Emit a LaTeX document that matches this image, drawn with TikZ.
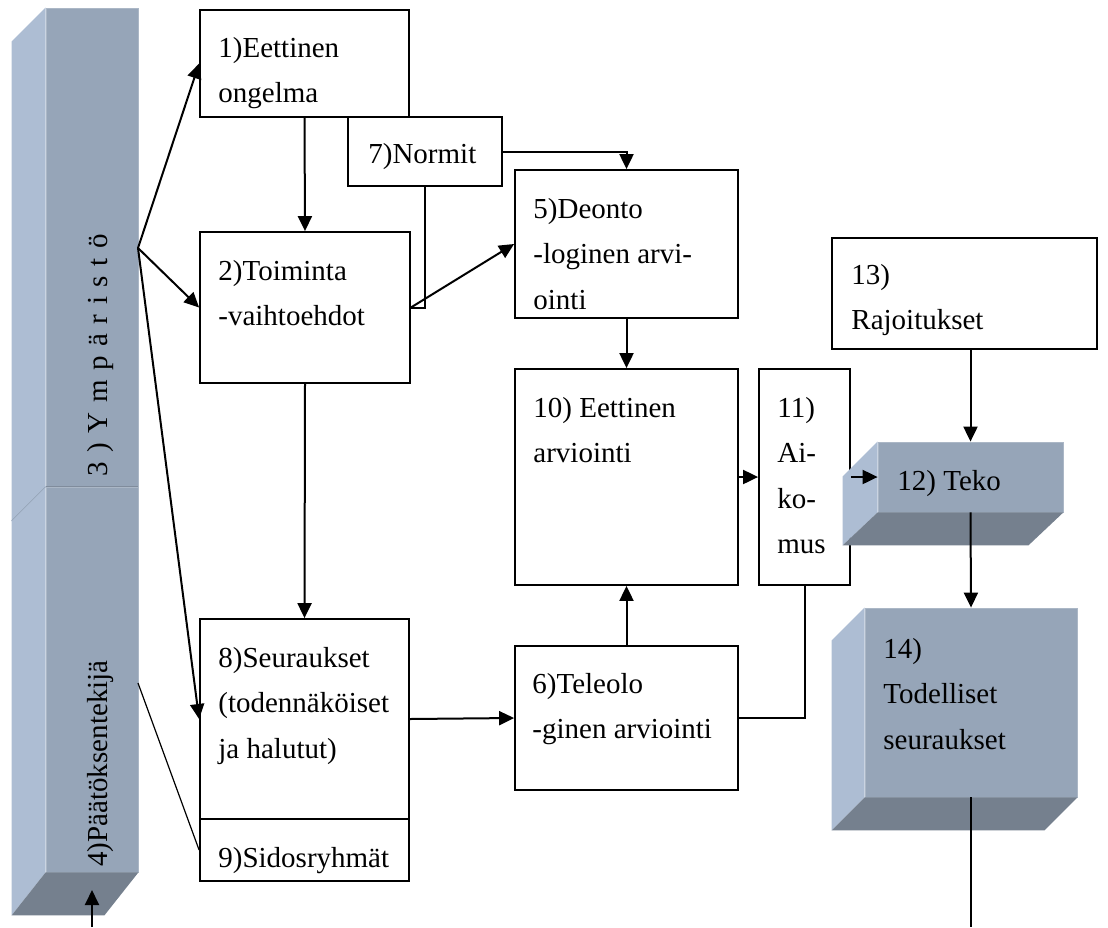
\documentclass[tikz,border=0pt]{standalone}
\usepackage{fontspec}
\setmainfont{Liberation Serif}
\usepackage{tikz}
\usetikzlibrary{arrows.meta,positioning,calc}
\newcommand{\dmfont}{\fontsize{14.5}{22.75}\selectfont}
\newcommand{\dmlines}[1]{\begin{tabular}[t]{@{}l@{}}#1\end{tabular}}
\definecolor{dmsidecol}{RGB}{173,189,211}
\definecolor{dmfrontcol}{RGB}{150,165,184}
\definecolor{dmbottomcol}{RGB}{117,128,142}
\tikzset{
  dmbox/.style={rectangle, draw=black, fill=white, line width=0.9pt, inner sep=0pt},
  dmtext/.style={anchor=base west, inner sep=0pt, font=\dmfont},
  dmfront/.style={rectangle, fill=dmfrontcol, draw=dmfrontcol!80!white, line width=0.4pt, inner sep=0pt},
  dmside/.style={fill=dmsidecol},
  dmbottom/.style={fill=dmbottomcol},
  dmedge/.style={-{Triangle[length=7.5pt,width=7pt]}, line width=1pt},
  dmline/.style={line width=1pt},
  dmthin/.style={line width=0.6pt}
}

\begin{document}
\begin{tikzpicture}[x=0.5pt,y=-0.5pt]
  \useasboundingbox (0,0) rectangle (1108,927);
  % environment and decision maker (left column)
  \node[dmfront, minimum width=46pt, minimum height=239.5pt] (ympf) at (92,247.5) {};
  \node[dmfront, minimum width=46pt, minimum height=192.5pt] (paatf) at (92,679.5) {};
  \fill[dmside] (ympf.north west) -- ++(-34,34) -- ($(ympf.south west)+(-34,34)$) -- (ympf.south west) -- cycle;
  \fill[dmside] (paatf.north west) -- ++(-34,34) -- ($(paatf.south west)+(-34,43)$) -- (paatf.south west) -- cycle;
  \fill[dmbottom] (paatf.south west) -- (paatf.south east) -- ++(-34,43) -- ($(paatf.south west)+(-34,43)$) -- cycle;
  \draw[dmsidecol!85!black, line width=0.3pt] (paatf.north west) -- ++(-34,34);
  \draw[dmfrontcol!85!black, line width=0.5pt] (paatf.north west) -- (paatf.north east);
  \node[dmtext, rotate=90, font={\dmfont\addfontfeatures{LetterSpace=33}}] (tymp) at (107,477) {3)Ympäristö};
  \node[dmtext, rotate=90] (tpaat) at (107,867) {4)Päätöksentekijä};
  \coordinate (ympsrc) at (138,248);
  \coordinate (paatsrc) at (138,683);
  \coordinate (paatin) at (92,927);
  \coordinate (paattip) at (92,890);
  % problem, alternatives, consequences
  \node[dmbox, minimum width=104.5pt, minimum height=53.5pt] (b1) at (304.5,63.5) {};
  \node[dmtext] (t1) at (218,57) {\dmlines{1)Eettinen\\ongelma}};
  \node[dmbox, minimum width=77pt, minimum height=34.5pt] (b7) at (425,151.5) {};
  \node[dmtext] (t7) at (368,163) {7)Normit};
  \node[dmbox, minimum width=105pt, minimum height=75.5pt] (b2) at (305,307.5) {};
  \node[dmtext] (t2) at (218,280) {\dmlines{2)Toiminta\\-vaihtoehdot}};
  \node[dmbox, minimum width=104.5pt, minimum height=100pt] (b8) at (304.5,719) {};
  \node[dmtext] (t8) at (218,667) {\dmlines{8)Seuraukset\\(todennäköiset\\ja halutut)}};
  \node[dmbox, minimum width=104.5pt, minimum height=31pt] (b9) at (304.5,850) {};
  \node[dmtext] (t9) at (218,867) {9)Sidosryhmät};
  % evaluations
  \node[dmbox, minimum width=111.5pt, minimum height=74pt] (b5) at (626.5,244) {};
  \node[dmtext] (t5) at (533,218) {\dmlines{5)Deonto\\-loginen arvi-\\ointi}};
  \node[dmbox, minimum width=111.5pt, minimum height=108pt] (b10) at (626.5,477) {};
  \node[dmtext] (t10) at (533,417) {\dmlines{10) Eettinen\\arviointi}};
  \node[dmbox, minimum width=111.5pt, minimum height=72pt] (b6) at (626.5,718) {};
  \node[dmtext] (t6) at (532,693) {\dmlines{6)Teleolo\\-ginen arviointi}};
  \node[dmbox, minimum width=45.5pt, minimum height=108pt] (b11) at (804.5,477) {};
  \node[dmtext] (t11) at (777,417) {\dmlines{11)\\Ai-\\ko-\\mus}};
  \node[dmbox, minimum width=132.5pt, minimum height=55.5pt] (b13) at (964.5,293.5) {};
  \node[dmtext] (t13) at (851,284) {\dmlines{13)\\Rajoitukset}};
  % act and real consequences
  \node[dmfront, minimum width=92.5pt, minimum height=35pt] (tekof) at (970.5,477) {};
  \fill[dmside] (tekof.north west) -- ++(-35,35) -- ($(tekof.south west)+(-35,33)$) -- (tekof.south west) -- cycle;
  \fill[dmbottom] (tekof.south west) -- (tekof.south east) -- ++(-35,33) -- ($(tekof.south west)+(-35,33)$) -- cycle;
  \node[dmtext] (t12) at (897,490) {12) Teko};
  \node[dmfront, minimum width=106pt, minimum height=94.5pt] (seurf) at (971,702.5) {};
  \fill[dmside] (seurf.north west) -- ++(-33,33) -- ($(seurf.south west)+(-33,33)$) -- (seurf.south west) -- cycle;
  \fill[dmbottom] (seurf.south west) -- (seurf.south east) -- ++(-33,33) -- ($(seurf.south west)+(-33,33)$) -- cycle;
  \node[dmtext] (t14) at (883,658) {\dmlines{14)\\Todelliset\\seuraukset}};
  \coordinate (seurend) at (971,927);
  % connectors
  \draw[dmedge] (ympsrc) -- (b1.west);
  \draw[dmedge] (ympsrc) -- (b2.west);
  \draw[dmedge] (ympsrc) -- (b8.west);
  \draw[dmthin] (paatsrc) -- (b9.west);
  \draw[dmedge] (paatin) -- (paattip);
  \draw[dmedge] (b1.south) -- (b2.north);
  \draw[dmline] (b7.south) |- (b2.east);
  \draw[dmedge] (b2.east) -- (b5.west);
  \draw[dmedge] (b7.east) -| (b5.north);
  \draw[dmedge] (b5.south) -- (b10.north);
  \draw[dmedge] (b2.south) -- (b8.north);
  \draw[dmedge] (b8.east) -- (b6.west);
  \draw[dmedge] (b6.north) -- (b10.south);
  \draw[dmline] (b6.east) -| (b11.south);
  \draw[dmedge] (b10.east) -- (b11.west);
  \draw[dmedge] (b11.east) -- (tekof.west);
  \draw[dmedge] (tekof.north |- b13.south) -- (tekof.north);
  \draw[dmedge] (tekof.south) -- (seurf.north);
  \draw[dmline] (seurf.south) -- (seurend);
\end{tikzpicture}
\end{document}
